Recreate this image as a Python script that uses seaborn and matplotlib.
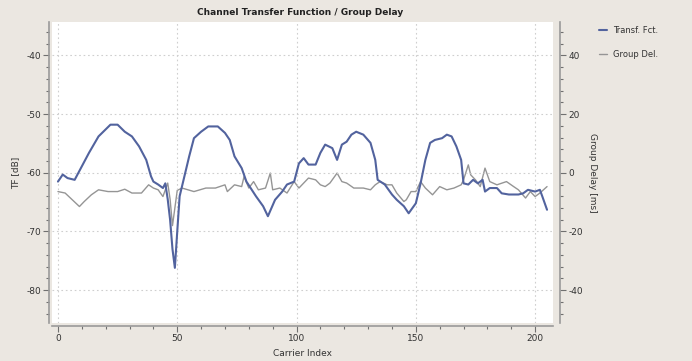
import matplotlib
matplotlib.use("Agg")
import matplotlib.pyplot as plt
from matplotlib.ticker import MultipleLocator
import seaborn as sns
import pandas as pd

# Transfer function (dB) vs carrier index
tf_idx = [0, 2, 4, 7, 10, 13, 17, 22, 25, 28, 31, 34, 37, 39, 40, 42, 44, 45, 46, 47,
          48, 49, 50, 51, 53, 55, 57, 60, 63, 67, 70, 72, 74, 77, 79, 83, 86, 88, 91, 94,
          96, 99, 101, 103, 105, 108, 110, 112, 115, 117, 119, 121, 123, 125, 128, 131,
          133, 134, 137, 140, 142, 145, 147, 150, 152, 154, 156, 158, 161, 163, 165, 167,
          169, 170, 172, 174, 176, 178, 179, 181, 184, 186, 189, 193, 195, 197, 200, 202,
          203, 205]
tf_db = [-61.5, -60.3, -60.9, -61.2, -58.9, -56.6, -53.8, -51.8, -51.8, -53.0, -53.8,
         -55.5, -57.8, -60.6, -61.5, -62.0, -62.6, -61.8, -64.5, -68.0, -73.0, -76.2,
         -70.0, -64.0, -60.6, -57.2, -54.1, -53.0, -52.1, -52.1, -53.2, -54.4, -57.2,
         -59.2, -61.5, -64.0, -65.7, -67.4, -64.6, -63.2, -62.0, -61.5, -58.4, -57.5,
         -58.6, -58.6, -56.6, -55.2, -55.8, -57.8, -55.2, -54.7, -53.5, -53.0, -53.5,
         -54.9, -57.8, -61.2, -62.0, -63.7, -64.6, -65.7, -66.9, -65.2, -61.8, -57.8,
         -54.9, -54.4, -54.1, -53.5, -53.8, -55.5, -57.8, -61.8, -62.0, -61.2, -61.8,
         -61.2, -63.2, -62.6, -62.6, -63.5, -63.7, -63.7, -63.5, -62.9, -63.2, -62.9,
         -64.0, -66.3]

# Group delay (ms) vs carrier index
gd_idx = [0, 3, 6, 9, 11, 14, 17, 21, 25, 28, 31, 35, 38, 40, 42, 44, 46, 47, 48, 49,
          50, 52, 57, 62, 66, 70, 71, 74, 77, 78, 80, 82, 84, 87, 89, 90, 93, 96, 99, 101,
          103, 105, 108, 110, 112, 114, 117, 119, 121, 124, 128, 131, 133, 135, 138, 140,
          142, 145, 146, 148, 150, 152, 154, 157, 160, 163, 166, 169, 170, 172, 173, 175,
          177, 179, 181, 184, 188, 191, 193, 196, 198, 200, 202, 205]
gd_ms = [-6.4, -6.9, -9.2, -11.5, -9.8, -7.5, -5.8, -6.4, -6.4, -5.6, -6.9, -6.9, -4.1,
         -5.2, -5.8, -8.1, -3.5, -9.0, -18.0, -12.0, -6.0, -5.2, -6.4, -5.2, -5.2, -4.1,
         -6.4, -4.1, -4.7, -1.3, -5.2, -3.0, -5.8, -5.2, -0.1, -5.8, -5.2, -6.9, -3.0,
         -5.2, -3.5, -1.8, -2.4, -4.1, -4.7, -3.5, -0.1, -3.0, -3.5, -5.2, -5.2, -5.8,
         -4.1, -3.0, -4.1, -4.1, -6.9, -9.8, -9.2, -6.4, -6.4, -3.0, -5.2, -7.5, -4.7,
         -5.8, -5.2, -4.1, -2.4, 2.7, -0.7, -2.4, -4.7, 1.6, -3.0, -4.1, -3.0, -4.7,
         -5.8, -8.6, -6.4, -8.1, -6.9, -4.7]

sns.set_style("ticks")
plt.rcParams['font.family'] = ['DejaVu Sans']
plt.rcParams['axes.unicode_minus'] = False

bg = '#ebe7e1'
spine_col = '#9a9a9a'
tf_color = '#52639e'
gd_color = '#959595'

fig = plt.figure(figsize=(6.92, 3.61), dpi=100, facecolor=bg)
ax = fig.add_axes([52 / 692, 38 / 361, 501 / 692, 301 / 361])

tf_df = pd.DataFrame({'idx': tf_idx, 'db': tf_db})
gd_df = pd.DataFrame({'idx': gd_idx, 'ms': gd_ms})

ax2 = ax.twinx()
sns.lineplot(data=gd_df, x='idx', y='ms', ax=ax2, color=gd_color, lw=1.0,
             label='Group Del.', legend=False)
sns.lineplot(data=tf_df, x='idx', y='db', ax=ax, color=tf_color, lw=1.5,
             label='Transf. Fct.', legend=False)
# blue line above the gray one, white background kept on the lower axes
ax.set_zorder(ax2.get_zorder() + 1)
ax.patch.set_visible(False)
ax2.patch.set_visible(True)
ax2.patch.set_facecolor('white')

ax.set_xlim(-2.5, 207.5)
ax.set_ylim(-85.6, -34.3)
ax2.set_ylim(-51.2, 51.4)

ax.xaxis.set_major_locator(MultipleLocator(50))
ax.xaxis.set_minor_locator(MultipleLocator(10))
ax.yaxis.set_major_locator(MultipleLocator(10))
ax.yaxis.set_minor_locator(MultipleLocator(2))
ax2.yaxis.set_major_locator(MultipleLocator(20))
ax2.yaxis.set_minor_locator(MultipleLocator(4))

ax.grid(True, which='major', color='#cfcfcf', linestyle=(0, (1.5, 2.5)), lw=0.8)

for a in (ax, ax2):
    a.spines['top'].set_visible(False)
    for s in ('left', 'right', 'bottom'):
        a.spines[s].set_color(spine_col)
        a.spines[s].set_linewidth(1.2)
    a.tick_params(which='major', length=4, width=0.8, color='#707070',
                  labelsize=6.5, labelcolor='#333333', pad=2)
    a.tick_params(which='minor', length=2.5, width=0.8, color='#707070')
ax.spines['left'].set_position(('outward', 2))
ax.spines['bottom'].set_position(('outward', 2))
ax2.spines['right'].set_position(('outward', 5))
ax.spines['right'].set_visible(False)
ax2.spines['left'].set_visible(False)
ax2.spines['bottom'].set_visible(False)

ax.set_xlabel('Carrier Index', fontsize=6.5, color='#333333', labelpad=4)
ax.set_ylabel('TF [dB]', fontsize=6.5, color='#333333', labelpad=4)
ax2.set_ylabel('Group Delay [ms]', fontsize=6.5, color='#333333', rotation=270, labelpad=10)

fig.text(0.434, 0.966, 'Channel Transfer Function / Group Delay', ha='center',
         va='center', fontsize=6.5, fontweight='bold', color='#222222')

h1, l1 = ax.get_legend_handles_labels()
h2, l2 = ax2.get_legend_handles_labels()
fig.legend(h1 + h2, l1 + l2, loc='upper left', bbox_to_anchor=(0.855, 0.95),
           frameon=False, fontsize=6, handlelength=0.9, labelspacing=1.8,
           labelcolor='#333333')

fig.savefig('out.png', dpi=100, facecolor=bg)
